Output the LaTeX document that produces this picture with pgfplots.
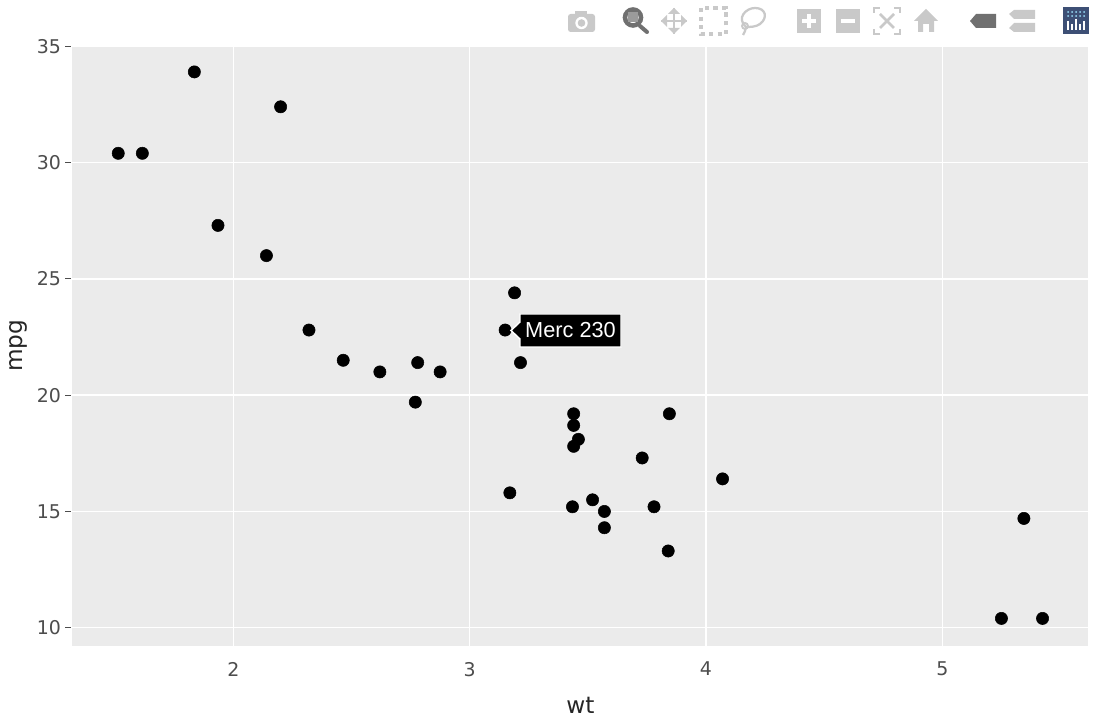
\documentclass[border=0pt]{standalone}
\usepackage{pgfplots}
\pgfplotsset{compat=1.18}
\usepackage{fontspec}
\setmainfont{DejaVu Sans}
\newfontfamily\arial{Liberation Sans}
\definecolor{panel}{HTML}{EBEBEB}
\definecolor{tickc}{HTML}{4D4D4D}
\definecolor{ico}{HTML}{C9C9C9}
\definecolor{icoa}{HTML}{707070}
\definecolor{logo}{HTML}{3D4F75}
\pgfplotstableread{
wt mpg
2.62 21
2.875 21
2.32 22.8
3.215 21.4
3.44 18.7
3.46 18.1
3.57 14.3
3.19 24.4
3.15 22.8
3.44 19.2
3.44 17.8
4.07 16.4
3.73 17.3
3.78 15.2
5.25 10.4
5.424 10.4
5.345 14.7
2.2 32.4
1.615 30.4
1.835 33.9
2.465 21.5
3.52 15.5
3.435 15.2
3.84 13.3
3.845 19.2
1.935 27.3
2.14 26
1.513 30.4
3.17 15.8
2.77 19.7
3.57 15
2.78 21.4
}\cars
\begin{document}
\begin{tikzpicture}
\path[use as bounding box,fill=white] (0,0) rectangle (825pt,537.75pt);
\begin{axis}[
  at={(54.3pt,53.35pt)},anchor=south west,
  scale only axis,width=762pt,height=450pt,
  xmin=1.319,xmax=5.618,ymin=9.22,ymax=35.02,
  xtick={2,3,4,5},ytick={10,15,20,25,30,35},
  xtick pos=bottom,ytick pos=left,
  axis background/.style={fill=panel},
  axis line style={draw=none},
  grid=major,
  grid style={white,line width=1.1pt},
  tick align=outside,
  major tick length=4.5pt,
  ytick style={draw=tickc,line width=0.9pt,xshift=-0.8pt},
  xtick style={draw=none},
  tick label style={font=\fontsize{14.2}{16}\selectfont,text=tickc},
  /pgf/number format/assume math mode=true,
  xticklabel style={yshift=-4.2pt},
  yticklabel style={xshift=-0.6pt},
  xlabel={wt},ylabel={mpg},
  label style={font=\fontsize{17.4}{20}\selectfont,text=black!85},
  xlabel style={at={(axis description cs:0.5,0)},anchor=north,yshift=-35pt},
  ylabel style={at={(axis description cs:0,0.5)},anchor=south,xshift=0pt,yshift=30.5pt},
  clip=false,
]
\addplot[only marks,mark=*,mark size=4.6pt,mark options={fill=black,draw=none}] table[x=wt,y=mpg] {\cars};
\pgfplotsinvokeforeach{2,3,4,5}{
  \draw[tickc,line width=0.9pt] (axis cs:#1,9.22) ++(0,-2pt) -- ++(0,-4.6pt);
}
\end{axis}
% hover label and modebar, in reference pixels
\begin{scope}[x=0.75pt,y=-0.75pt,yshift=537.75pt]
\draw[white,fill=black,line width=1.1pt] (511,330.5) -- (520,322) -- (520,314) -- (621,314) -- (621,347) -- (520,347) -- (520,339) -- cycle;
\node[text=white,font=\arial\fontsize{16.3}{18}\selectfont,anchor=center] at (570.5,330.5) {Merc 230};
% camera
\fill[ico,rounded corners=2pt] (568,14) rectangle (595,32);
\fill[ico] (575,11) rectangle (587,15);
\fill[white] (581.5,23) circle (6.2);
\fill[ico] (581.5,23) circle (3.8);
% zoom (active)
\draw[icoa,line width=3.4pt] (633,17.5) circle (8);
\fill[icoa!70] (628,12.5) rectangle (638,22.5);
\draw[icoa,line width=3pt,line cap=round] (640,26) -- (647,32);
% pan
\draw[ico,line width=1.8pt] (661,21) -- (687,21) (674,8) -- (674,34);
\fill[ico] (661,21) -- (667,15) -- (667,27) -- cycle (687,21) -- (681,15) -- (681,27) -- cycle
 (674,8) -- (668,14) -- (680,14) -- cycle (674,34) -- (668,28) -- (680,28) -- cycle;
% box select
\draw[ico,line width=2.4pt,dash pattern=on 3.2pt off 3.2pt] (701,8) rectangle (726,34);
% lasso
\draw[ico,line width=1.7pt] (746,27) .. controls (736,18) and (746,8) .. (755,8) .. controls (766,8) and (768,18) .. (760,24) .. controls (756,27) and (750,27) .. (746,27) .. controls (744,30) and (746,33) .. (743,35);
\draw[ico,line width=1.4pt] (745,26) circle (3);
% plus
\fill[ico] (797,9) rectangle (821,33);
\draw[white,line width=2.4pt] (802,21) -- (816,21) (809,14) -- (809,28);
% minus
\fill[ico] (836,9) rectangle (860,33);
\draw[white,line width=2.4pt] (841,21) -- (855,21);
% autoscale
\draw[ico,line width=1.3pt] (874,13) -- (874,8) -- (880,8) (894,8) -- (900,8) -- (900,13) (900,29) -- (900,34) -- (894,34) (880,34) -- (874,34) -- (874,29);
\draw[ico,line width=2pt] (880,14) -- (894,28) (894,14) -- (880,28);
% home
\fill[ico] (926,9) -- (938,21) -- (934,21) -- (934,32) -- (929,32) -- (929,24) -- (923,24) -- (923,32) -- (918,32) -- (918,21) -- (914,21) -- cycle;
% hover closest (active)
\fill[icoa] (970,21) -- (976,14) -- (996,14) -- (996,28) -- (976,28) -- cycle;
% compare
\fill[ico] (1009,14) -- (1014,10) -- (1035,10) -- (1035,19) -- (1014,19) -- cycle;
\fill[ico] (1009,28) -- (1014,23) -- (1035,23) -- (1035,32) -- (1014,32) -- cycle;
% logo
\fill[logo] (1063,7) rectangle (1089,34);
\foreach \xx in {1068,1072,1076,1080,1084} {\fill[white!60!cyan] (\xx,12) circle (1);\fill[white!60!cyan] (\xx,16) circle (1);}
\foreach \xx/\yy in {1068/21,1072/24,1076/19,1080/24,1084/21} {\draw[white,line width=1.3pt] (\xx,\yy) -- (\xx,30);}
\end{scope}
\end{tikzpicture}
\end{document}
